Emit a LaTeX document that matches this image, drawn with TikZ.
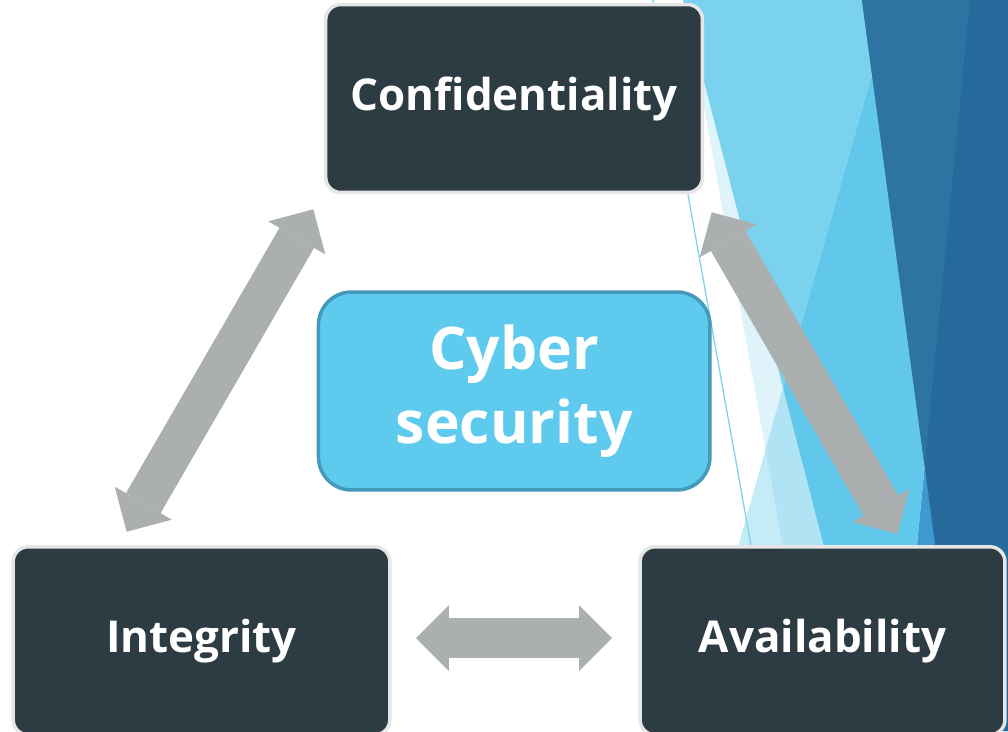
\documentclass[tikz,border=0pt]{standalone}
\usepackage{fontspec}
\setmainfont{Open Sans}
\usetikzlibrary{arrows.meta}
\definecolor{boxdark}{HTML}{2D3B43}
\definecolor{boxedge}{HTML}{E6E6E6}
\definecolor{cyberfill}{HTML}{5ECAEE}
\definecolor{cyberedge}{HTML}{4599B9}
\definecolor{arrowgray}{HTML}{ABAFB0}
\definecolor{palebg}{HTML}{DFF3FB}
\definecolor{lightbg}{HTML}{7BD2EE}
\definecolor{twoonly}{HTML}{C5EBF7}
\definecolor{twopale}{HTML}{B0E3F4}
\definecolor{midbg}{HTML}{62C8EB}
\definecolor{darkone}{HTML}{2D74A3}
\definecolor{darktwo}{HTML}{266A9B}
\definecolor{medbg}{HTML}{3D99D0}
\definecolor{thinline}{HTML}{7DD3EE}
\begin{document}
\begin{tikzpicture}[x=0.02cm,y=-0.02cm,
  pillar/.style={draw=boxedge, fill=boxdark, line width=0.07cm, rounded corners=0.3cm,
    text=white, font=\bfseries\fontsize{25}{30}\selectfont, inner sep=0pt},
  core/.style={draw=cyberedge, fill=cyberfill, line width=0.07cm, rounded corners=0.66cm,
    text=white, font=\bfseries\fontsize{33.5}{42}\selectfont, align=center, inner sep=0pt},
  garrow/.style={draw=arrowgray, line width=0.8cm,
    {Triangle[length=0.66cm,width=1.32cm,line width=0pt]}-{Triangle[length=0.66cm,width=1.32cm,line width=0pt]}}]
\clip (0,0) rectangle (1008,731);
\fill[white] (0,0) rectangle (1008,731);
% background facets
\fill[palebg] (685,0) -- (1008,0) -- (1008,731) -- (816,731) -- cycle;
\fill[lightbg] (683,0) -- (1008,0) -- (1008,731) -- (871.6,731) -- cycle;
\fill[medbg] (924.6,465.5) -- (975,731) -- (880,731) -- cycle;
\fill[twoonly] (872,74.4) -- (924.6,465.5) -- (898.7,731) -- (685.7,731) -- cycle;
\begin{scope}
  \clip (685,0) -- (1008,0) -- (1008,731) -- (816,731) -- cycle;
  \fill[twopale] (872,74.4) -- (924.6,465.5) -- (898.7,731) -- (685.7,731) -- cycle;
\end{scope}
\begin{scope}
  \clip (683,0) -- (1008,0) -- (1008,731) -- (871.6,731) -- cycle;
  \fill[midbg] (872,74.4) -- (924.6,465.5) -- (898.7,731) -- (685.7,731) -- cycle;
\end{scope}
\fill[darktwo] (862,0) -- (1008,0) -- (1008,731) -- (960.2,731) -- cycle;
\fill[darkone] (862,0) -- (970,0) -- (924.6,465.5) -- cycle;
\draw[thinline, line width=0.025cm] (653,0) -- (784.4,731);
% nodes
\node[pillar, minimum width=7.536cm, minimum height=3.76cm] (conf) at (514.1,98.5) {Confidentiality};
\node[core, minimum width=7.83cm, minimum height=3.96cm] (cyber) at (514.2,391) {Cyber\\security};
\node[pillar, minimum width=7.536cm, minimum height=3.76cm] (integ) at (201.5,640.75) {Integrity};
\node[pillar, minimum width=7.3cm, minimum height=3.76cm] (avail) at (822.5,640.75) {Availability};
% connectors
\coordinate (lt) at (313.3,209.3);
\coordinate (lb) at (126.7,531.7);
\coordinate (rt) at (711.7,212.3);
\coordinate (rb) at (897.3,534);
\coordinate (hl) at (416,638);
\coordinate (hr) at (612,638);
\draw[garrow] (lb) -- (lt);
\draw[garrow] (rt) -- (rb);
\draw[garrow] (hl) -- (hr);
\end{tikzpicture}
\end{document}
